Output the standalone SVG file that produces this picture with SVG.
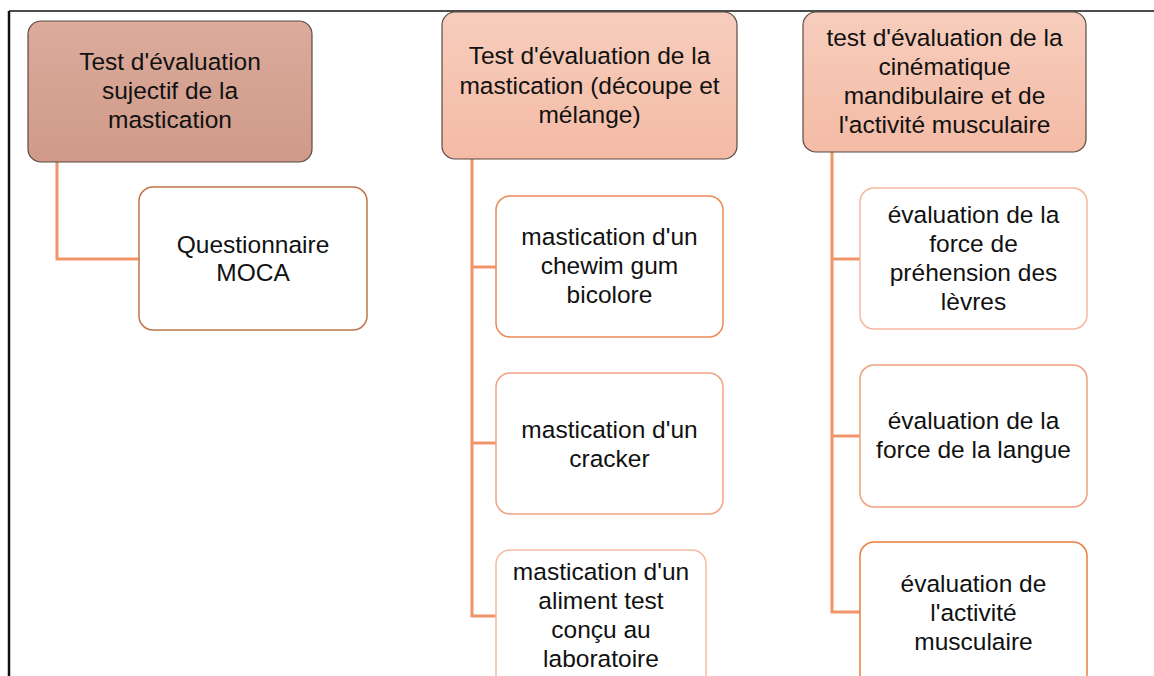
<svg xmlns="http://www.w3.org/2000/svg" width="1154" height="676" viewBox="0 0 1154 676">
<defs>
<linearGradient id="gp1" x1="0" y1="0" x2="0" y2="1"><stop offset="0" stop-color="#dcab9c"/><stop offset="1" stop-color="#cf9a88"/></linearGradient>
<linearGradient id="gp2" x1="0" y1="0" x2="0" y2="1"><stop offset="0" stop-color="#f7cdbd"/><stop offset="1" stop-color="#f4bba5"/></linearGradient>
</defs>
<style>
text{font-family:"Liberation Sans",Arial,sans-serif;font-size:24.5px;fill:#111;text-anchor:middle}
.parent{stroke:#5a4a44;stroke-width:1.2}
.child{fill:#fff;stroke-width:1.5}
.conn{fill:none;stroke:#f0946a;stroke-width:3}
.frame{stroke:#111;fill:none}
</style>
<g id="frame">
<line class="frame" x1="9" y1="11" x2="1154" y2="11" stroke-width="1.5"/>
<line class="frame" x1="9" y1="11" x2="9" y2="676" stroke-width="2.5"/>
</g>
<g id="connectors">
<polyline class="conn" points="57,162 57,259 139,259"/>
<polyline class="conn" points="472,159 472,616 496,616"/>
<line class="conn" x1="472" y1="267" x2="496" y2="267"/>
<line class="conn" x1="472" y1="443" x2="496" y2="443"/>
<polyline class="conn" points="832,152 832,612 860,612"/>
<line class="conn" x1="832" y1="259" x2="860" y2="259"/>
<line class="conn" x1="832" y1="436" x2="860" y2="436"/>
</g>
<g id="p1">
<rect class="parent" x="28" y="21" width="284" height="141" rx="13" fill="url(#gp1)"/>
<text x="170" y="70">Test d'évaluation</text>
<text x="170" y="99">sujectif de la</text>
<text x="170" y="128">mastication</text>
</g>
<g id="p2">
<rect class="parent" x="442" y="12" width="295" height="147" rx="13" fill="url(#gp2)"/>
<text x="589.5" y="64">Test d'évaluation de la</text>
<text x="589.5" y="93.5">mastication (découpe et</text>
<text x="589.5" y="123">mélange)</text>
</g>
<g id="p3">
<rect class="parent" x="803" y="12" width="283" height="140" rx="13" fill="url(#gp2)"/>
<text x="944.5" y="46">test d'évaluation de la</text>
<text x="944.5" y="75">cinématique</text>
<text x="944.5" y="104">mandibulaire et de</text>
<text x="944.5" y="133">l'activité musculaire</text>
</g>
<g id="c1">
<rect class="child" x="139" y="187" width="228" height="143" rx="14" stroke="#c07548"/>
<text x="253" y="252.5">Questionnaire</text>
<text x="253" y="281">MOCA</text>
</g>
<g id="c2a">
<rect class="child" x="496" y="196" width="227" height="141" rx="14" stroke="#ec8a58"/>
<text x="609.5" y="245">mastication d'un</text>
<text x="609.5" y="274">chewim gum</text>
<text x="609.5" y="303">bicolore</text>
</g>
<g id="c2b">
<rect class="child" x="496" y="373" width="227" height="141" rx="14" stroke="#f2a282"/>
<text x="609.5" y="438">mastication d'un</text>
<text x="609.5" y="466.5">cracker</text>
</g>
<g id="c2c">
<rect class="child" x="496" y="550" width="210" height="141" rx="14" stroke="#f6bba3"/>
<text x="601" y="580">mastication d'un</text>
<text x="601" y="609">aliment test</text>
<text x="601" y="638">conçu au</text>
<text x="601" y="667">laboratoire</text>
</g>
<g id="c3a">
<rect class="child" x="860" y="188" width="227" height="141" rx="14" stroke="#f5b89e"/>
<text x="973.5" y="223">évaluation de la</text>
<text x="973.5" y="252">force de</text>
<text x="973.5" y="281">préhension des</text>
<text x="973.5" y="310">lèvres</text>
</g>
<g id="c3b">
<rect class="child" x="860" y="365" width="227" height="142" rx="14" stroke="#f0a07a"/>
<text x="973.5" y="429">évaluation de la</text>
<text x="973.5" y="458">force de la langue</text>
</g>
<g id="c3c">
<rect class="child" x="860" y="542" width="227" height="150" rx="14" stroke="#ec7d3f"/>
<text x="973.5" y="592">évaluation de</text>
<text x="973.5" y="621">l'activité</text>
<text x="973.5" y="649.5">musculaire</text>
</g>
</svg>
